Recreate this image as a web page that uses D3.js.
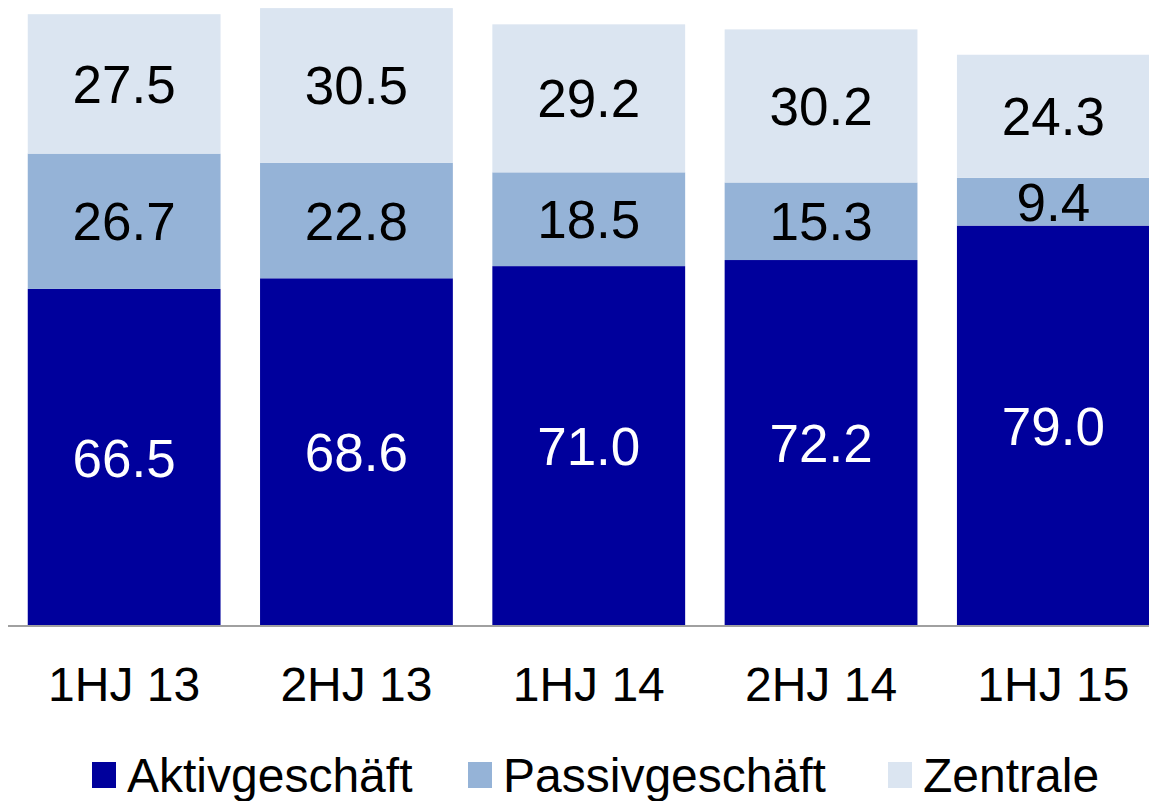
<!DOCTYPE html>
<html>
<head>
<meta charset="utf-8">
<script src="https://cdn.jsdelivr.net/npm/d3@7"></script>
<style>
  body { margin: 0; background: #fff; }
  svg { display: block; font-family: "Liberation Sans", Arial, sans-serif; }
</style>
</head>
<body>
<svg id="chart" width="1149" height="801"></svg>
<script>
// data
const categories = ["1HJ 13", "2HJ 13", "1HJ 14", "2HJ 14", "1HJ 15"];
const aktiv = [66.5, 68.6, 71.0, 72.2, 79.0];
const passiv = [26.7, 22.8, 18.5, 15.3, 9.4];
const zentrale = [27.5, 30.5, 29.2, 30.2, 24.3];
const seriesNames = ["Aktivgeschäft", "Passivgeschäft", "Zentrale"];
const colors = ["#00009C", "#95B3D7", "#DBE5F1"];
const labelColors = ["#fff", "#000", "#000"];

const svg = d3.select("#chart");
const baseY = 626;

const rows = categories.map((c, i) => ({
    cat: c,
    Aktivgeschäft: aktiv[i],
    Passivgeschäft: passiv[i],
    Zentrale: zentrale[i]
}));

const stacked = d3.stack().keys(seriesNames)(rows);

const x = d3.scaleBand()
    .domain(categories)
    .range([8, 1169.5])
    .paddingInner(0.17)
    .paddingOuter(0.085);

const y = d3.scaleLinear()
    .domain([0, 123.5])
    .range([baseY, 0]);

// bars
const layers = svg.append("g").attr("class", "bars")
    .selectAll("g")
    .data(stacked)
    .enter().append("g")
    .attr("fill", (d, i) => colors[i]);

layers.selectAll("rect")
    .data(d => d)
    .enter().append("rect")
    .attr("x", d => x(d.data.cat))
    .attr("width", x.bandwidth())
    .attr("y", d => y(d[1]))
    .attr("height", d => y(d[0]) - y(d[1]));

// value labels
stacked.forEach((layer, i) => {
    svg.append("g")
        .selectAll("text")
        .data(layer)
        .enter().append("text")
        .attr("x", d => x(d.data.cat) + x.bandwidth() / 2)
        .attr("y", d => (y(d[0]) + y(d[1])) / 2)
        .attr("dy", "0.36em")
        .attr("text-anchor", "middle")
        .attr("font-size", 53)
        .attr("fill", labelColors[i])
        .text(d => (d[1] - d[0]).toFixed(1));
});

// axis line + category labels
const xAxis = svg.append("g")
    .attr("transform", `translate(0,${baseY})`)
    .call(d3.axisBottom(x).tickSize(0).tickPadding(41));
xAxis.select(".domain").attr("stroke", "#A0A0A0").attr("stroke-width", 2)
    .attr("d", "M8,0H1149");
xAxis.selectAll("text")
    .attr("font-size", 48)
    .attr("font-family", "Liberation Sans, Arial, sans-serif")
    .attr("fill", "#000");

// legend
const legendX = [92, 468, 888];
const legend = svg.append("g").attr("class", "legend")
    .selectAll("g")
    .data(seriesNames)
    .enter().append("g")
    .attr("transform", (d, i) => `translate(${legendX[i]},0)`);
legend.append("rect")
    .attr("x", 0).attr("y", 762)
    .attr("width", 24).attr("height", 26)
    .attr("fill", (d, i) => colors[i]);
legend.append("text")
    .attr("x", 35).attr("y", 792)
    .attr("font-size", 48)
    .attr("fill", "#000")
    .text(d => d);
</script>
</body>
</html>
